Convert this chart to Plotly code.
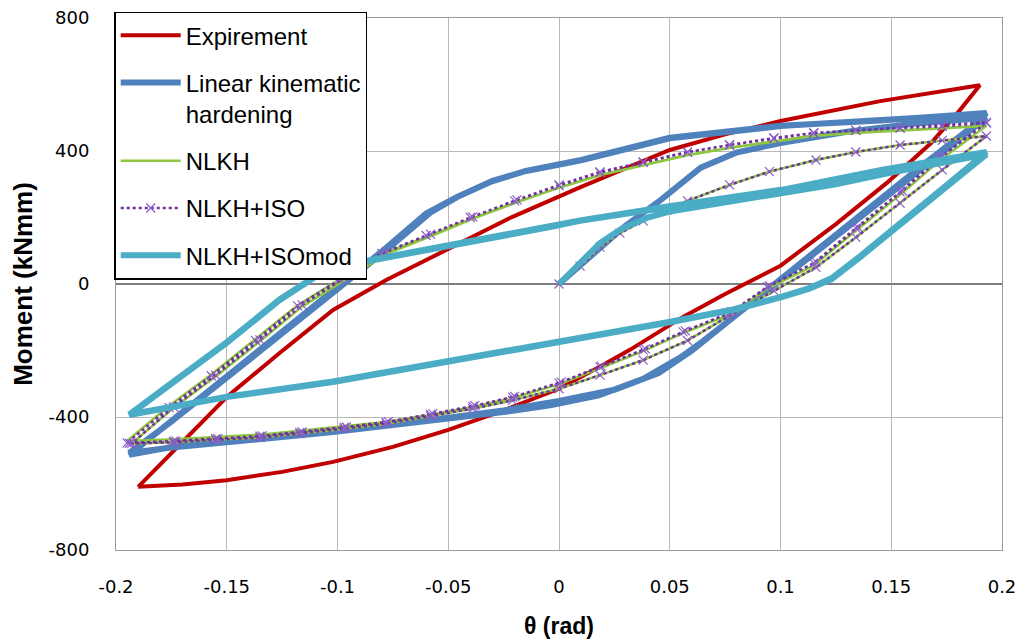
import plotly.graph_objects as go

# ---------------- data (theta in rad, moment in kNmm) ----------------
EXP_THETA = [-0.190, -0.170, -0.150, -0.126, -0.102, -0.078, -0.051, -0.021, 0.010, 0.050, 0.075, 0.100, 0.145, 0.190,
             0.181, 0.168, 0.148, 0.125, 0.100, 0.075, 0.056, 0.032, 0.018, 0.000, -0.025, -0.050, -0.075, -0.102,
             -0.125, -0.150, -0.170, -0.190]
EXP_MOMENT = [-610, -475, -340, -207, -78, 12, 102, 202, 292, 403, 450, 490, 550, 598,
              523, 424, 304, 180, 55, -30, -99, -198, -250, -315, -380, -439, -490, -535,
              -565, -590, -603, -610]

LKH_THETA = [0.000, 0.010, 0.020, 0.030, 0.046, 0.064, 0.080, 0.100, 0.130, 0.160, 0.193,
             0.185, 0.160, 0.130, 0.100, 0.080, 0.065, 0.055, 0.038, 0.018, -0.004, -0.025, -0.050, -0.075,
             -0.102, -0.125, -0.150, -0.175, -0.194,
             -0.175, -0.150, -0.125, -0.102, -0.078, -0.058, -0.045, -0.030, -0.015, 0.010, 0.050, 0.100, 0.145, 0.193,
             0.186, 0.165, 0.140, 0.110, 0.090, 0.072, 0.060, 0.045, 0.025, 0.000, -0.025, -0.050, -0.075,
             -0.102, -0.125, -0.150, -0.175, -0.194,
             -0.176, -0.152, -0.127, -0.104, -0.080, -0.060, -0.046, -0.031, -0.016, 0.010, 0.050, 0.100, 0.145, 0.193]
LKH_MOMENT = [0, 58, 118, 175, 253, 350, 395, 424, 458, 482, 500,
              458, 326, 168, 10, -95, -172, -220, -285, -335, -365, -385, -405, -425,
              -445, -460, -475, -492, -508,
              -414, -282, -150, -25, 102, 215, 265, 310, 340, 373, 440, 476, 492, 514,
              470, 362, 228, 68, -40, -135, -200, -268, -318, -352, -380, -402, -422,
              -442, -458, -474, -490, -514,
              -418, -290, -158, -30, 98, 212, 262, 307, 338, 372, 438, 475, 493, 512]

NLKH_THETA = [0.000, 0.0095, 0.0185, 0.0275, 0.038, 0.049, 0.058, 0.077, 0.095, 0.116, 0.134, 0.154, 0.173, 0.193,
              0.173, 0.154, 0.134, 0.116, 0.097, 0.077, 0.058, 0.038, 0.0185, 0.000, -0.021, -0.039, -0.058, -0.078,
              -0.097, -0.117, -0.135, -0.155, -0.174, -0.193,
              -0.174, -0.155, -0.135, -0.116, -0.097, -0.078, -0.058, -0.039, -0.019, 0.000, 0.0185, 0.038, 0.058,
              0.077, 0.097, 0.115, 0.134, 0.154, 0.173, 0.193,
              0.172, 0.154, 0.134, 0.115, 0.094, 0.077, 0.056, 0.038, 0.0185, 0.000, -0.021, -0.039, -0.058, -0.078,
              -0.097, -0.117, -0.135, -0.155, -0.174, -0.195,
              -0.176, -0.157, -0.137, -0.118, -0.099, -0.080, -0.060, -0.040, -0.020, 0.000, 0.0185, 0.038, 0.058,
              0.077, 0.097, 0.115, 0.134, 0.154, 0.173, 0.193]
NLKH_MOMENT = [0, 54, 111, 153, 190, 222, 250, 298, 338, 373, 397, 418, 432, 445,
               343, 243, 140, 50, -20, -95, -170, -229, -274, -315, -350, -375, -397, -420,
               -435, -450, -462, -468, -476, -480,
               -372, -278, -172, -68, 12, 90, 143, 196, 246, 290, 328, 358, 388,
               410, 430, 446, 455, 462, 467, 476,
               372, 268, 160, 56, -15, -92, -148, -202, -254, -302, -343, -370, -393, -415,
               -428, -442, -453, -460, -467, -472,
               -366, -272, -166, -64, 14, 90, 142, 195, 245, 289, 327, 357, 387,
               409, 429, 445, 454, 461, 467, 475]

ISO_THETA = [0.000, 0.0095, 0.0185, 0.0275, 0.038, 0.049, 0.058, 0.077, 0.095, 0.116, 0.134, 0.154, 0.173, 0.193,
             0.173, 0.154, 0.134, 0.116, 0.097, 0.077, 0.058, 0.038, 0.0185, 0.000, -0.021, -0.039, -0.058, -0.078,
             -0.097, -0.117, -0.135, -0.155, -0.174, -0.193,
             -0.174, -0.155, -0.135, -0.116, -0.097, -0.078, -0.058, -0.039, -0.019, 0.000, 0.0185, 0.038, 0.058,
             0.077, 0.097, 0.115, 0.134, 0.154, 0.173, 0.193,
             0.172, 0.154, 0.134, 0.115, 0.094, 0.077, 0.056, 0.038, 0.0185, 0.000, -0.021, -0.039, -0.058, -0.078,
             -0.097, -0.117, -0.135, -0.155, -0.174, -0.195,
             -0.176, -0.157, -0.137, -0.118, -0.099, -0.080, -0.060, -0.040, -0.020, 0.000, 0.0185, 0.038, 0.058,
             0.077, 0.097, 0.115, 0.134, 0.154, 0.173, 0.193,
             0.173, 0.155, 0.135, 0.116, 0.095, 0.078, 0.057, 0.039, 0.019, 0.001, -0.020, -0.038, -0.057, -0.077,
             -0.096, -0.116, -0.134, -0.154, -0.173, -0.194]
ISO_MOMENT = [0, 54, 111, 153, 190, 222, 250, 298, 338, 373, 397, 418, 432, 445,
              343, 243, 140, 50, -20, -95, -170, -229, -274, -315, -350, -375, -397, -420,
              -435, -450, -462, -468, -476, -480,
              -370, -274, -168, -63, 18, 96, 150, 202, 253, 298, 337, 367, 397,
              418, 439, 454, 462, 469, 474, 484,
              382, 277, 168, 63, -9, -87, -144, -198, -250, -298, -340, -368, -392, -416,
              -431, -446, -458, -465, -473, -478,
              -372, -276, -170, -66, 14, 92, 146, 200, 250, 296, 335, 366, 396,
              418, 438, 454, 462, 470, 476, 486,
              384, 280, 170, 66, -6, -84, -141, -195, -247, -295, -338, -366, -390, -414,
              -430, -445, -457, -465, -472, -479]

MOD_THETA = [0.000, 0.0095, 0.0185, 0.028, 0.040, 0.050, 0.075, 0.100, 0.125, 0.150, 0.175, 0.193,
             0.176, 0.154, 0.136, 0.123, 0.113, 0.101, 0.079, 0.049, 0.0185, -0.004, -0.050, -0.102, -0.150, -0.194,
             -0.177, -0.150, -0.126, -0.108, -0.095, -0.076, -0.036, -0.004, 0.0095, 0.049, 0.101, 0.146, 0.193,
             0.176, 0.154, 0.136, 0.123, 0.113, 0.101, 0.079, 0.049, 0.0185, -0.004, -0.050, -0.102, -0.150, -0.194,
             -0.177, -0.150, -0.126, -0.108, -0.095, -0.076, -0.036, -0.004, 0.0095, 0.049, 0.101, 0.146, 0.193]
MOD_MOMENT = [0, 62, 123, 165, 200, 218, 245, 270, 300, 335, 365, 390,
              298, 177, 81, 14, -14, -39, -78, -117, -153, -183, -238, -295, -340, -394,
              -310, -177, -48, 30, 58, 81, 132, 171, 190, 232, 283, 343, 397,
              303, 181, 84, 17, -12, -37, -76, -115, -151, -181, -236, -293, -339, -392,
              -308, -175, -46, 32, 60, 83, 134, 172, 191, 233, 284, 344, 396]

X_TICKS = [-0.2, -0.15, -0.1, -0.05, 0, 0.05, 0.1, 0.15, 0.2]
X_TICK_TEXT = ["-0.2", "-0.15", "-0.1", "-0.05", "0", "0.05", "0.1", "0.15", "0.2"]
Y_TICKS = [-800, -400, 0, 400, 800]
Y_TICK_TEXT = ["-800", "-400", "0", "400", "800"]

# ---------------- figure ----------------
fig = go.Figure()

fig.add_trace(go.Scatter(x=EXP_THETA, y=EXP_MOMENT, mode="lines", name="Expirement",
                         line=dict(color="#C00000", width=4), legendgroup="a"))
fig.add_trace(go.Scatter(x=LKH_THETA, y=LKH_MOMENT, mode="lines", name="Linear kinematic<br>hardening",
                         line=dict(color="#4F81BD", width=6), legendgroup="b"))
fig.add_trace(go.Scatter(x=NLKH_THETA, y=NLKH_MOMENT, mode="lines", name="NLKH",
                         line=dict(color="#8DC63F", width=2.5), legendgroup="c"))
fig.add_trace(go.Scatter(x=ISO_THETA, y=ISO_MOMENT, mode="lines+markers", name="NLKH+ISO",
                         line=dict(color="#7030A0", width=2.5, dash="dot"),
                         marker=dict(symbol="x-thin", size=9, line=dict(color="#8A5CC7", width=1.2)),
                         legendgroup="d"))
fig.add_trace(go.Scatter(x=MOD_THETA, y=MOD_MOMENT, mode="lines", name="NLKH+ISOmod",
                         line=dict(color="#4BACC6", width=6), legendgroup="e"))

axis_common = dict(showgrid=True, gridcolor="#B8B8B8", gridwidth=1, showline=True, mirror=True,
                   linecolor="#9A9A9A", linewidth=1, ticks="", zeroline=False, automargin=False,
                   tickfont=dict(family="DejaVu Sans", size=18, color="#000000"))

fig.update_xaxes(range=[-0.2, 0.2], tickmode="array", tickvals=X_TICKS, ticktext=X_TICK_TEXT,
                 ticklabelstandoff=20,
                 title=dict(text="<b>θ (rad)</b>", font=dict(family="Liberation Sans", size=23, color="#000000"),
                            standoff=22),
                 **axis_common)
fig.update_yaxes(range=[-800, 800], tickmode="array", tickvals=Y_TICKS, ticktext=Y_TICK_TEXT,
                 ticklabelstandoff=22,
                 title=dict(text="<b>Moment (kNmm)</b>", font=dict(family="Liberation Sans", size=26, color="#000000"),
                            standoff=8),
                 **axis_common)
fig.update_yaxes(zeroline=True, zerolinecolor="#7F7F7F", zerolinewidth=1.5)

fig.update_layout(
    width=1019, height=643,
    margin=dict(l=116, r=17, t=18, b=93),
    paper_bgcolor="#FFFFFF", plot_bgcolor="#FFFFFF",
    font=dict(family="Liberation Sans", color="#000000"),
    legend=dict(x=-0.002, y=1.012, xanchor="left", yanchor="top", bgcolor="#FFFFFF",
                bordercolor="#000000", borderwidth=1.5,
                font=dict(family="Liberation Sans", size=24, color="#000000"),
                traceorder="grouped", tracegroupgap=13, itemwidth=60, valign="top",
                entrywidth=222, entrywidthmode="pixels"),
    showlegend=True,
)

fig.write_html("out.html")
